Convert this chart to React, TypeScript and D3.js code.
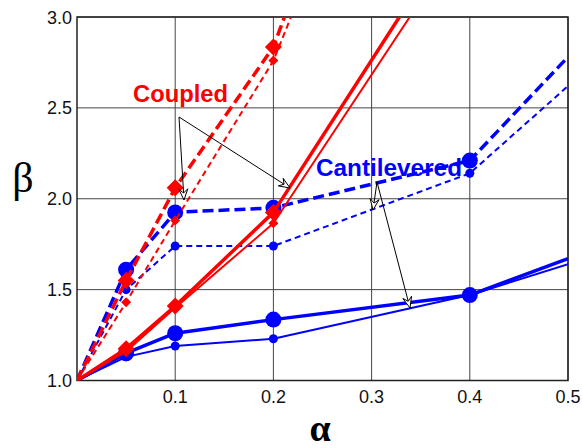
import React from "react";
import * as d3 from "d3";

const alphaTicks = [0.1, 0.2, 0.3, 0.4, 0.5];
const betaTicks = [1.0, 1.5, 2.0, 2.5, 3.0];

const cantAlpha = [0, 0.05, 0.1, 0.2, 0.4, 0.5];
const cantThickSolid = [1, 1.15, 1.26, 1.335, 1.47, 1.67];
const cantThinSolid = [1, 1.13, 1.19, 1.23, 1.47, 1.64];
const cantThickDashed = [1, 1.61, 1.925, 1.95, 2.21, 2.78];
const cantThinDashed = [1, 1.5, 1.74, 1.74, 2.14, 2.62];

const coupSolidAlpha = [0, 0.05, 0.1, 0.2, 0.4];
const coupThickSolid = [1, 1.175, 1.41, 1.925, 3.6];
const coupThinSolid = [1, 1.16, 1.4, 1.865, 3.5];
const coupDashedAlpha = [0, 0.05, 0.1, 0.2, 0.3];
const coupThickDashed = [1, 1.55, 2.06, 2.835, 4.3];
const coupThinDashed = [1, 1.43, 1.88, 2.76, 4.1];

const W = 582, H = 448;
const L = 77, R = 568, T = 17, B = 380.5;

const x = d3.scaleLinear().domain([0, 0.5]).range([L, R]);
const y = d3.scaleLinear().domain([1, 3]).range([B, T]);

type S = { a: number[]; b: number[]; color: string; w: number; dash?: string; marker: "circle" | "diamond"; size: number };

const series: S[] = [
  { a: cantAlpha, b: cantThinSolid, color: "#0000ff", w: 2, marker: "circle", size: 4.5 },
  { a: cantAlpha, b: cantThickSolid, color: "#0000ff", w: 3.5, marker: "circle", size: 8 },
  { a: cantAlpha, b: cantThinDashed, color: "#0000ff", w: 2, dash: "6,4", marker: "circle", size: 4.5 },
  { a: cantAlpha, b: cantThickDashed, color: "#0000ff", w: 3.5, dash: "11,5", marker: "circle", size: 8 },
  { a: coupSolidAlpha, b: coupThinSolid, color: "#ff0000", w: 2, marker: "diamond", size: 5 },
  { a: coupSolidAlpha, b: coupThickSolid, color: "#ff0000", w: 3.5, marker: "diamond", size: 8.5 },
  { a: coupDashedAlpha, b: coupThinDashed, color: "#ff0000", w: 2, dash: "6,4", marker: "diamond", size: 5 },
  { a: coupDashedAlpha, b: coupThickDashed, color: "#ff0000", w: 3.5, dash: "11,5", marker: "diamond", size: 8.5 },
];

const arrows = [
  { from: [179, 117], to: [184, 200] },
  { from: [179, 117], to: [290, 188] },
  { from: [377, 182], to: [373, 210] },
  { from: [377, 182], to: [410, 308] },
];

function head(from: number[], to: number[]) {
  const dx = to[0] - from[0], dy = to[1] - from[1];
  const len = Math.hypot(dx, dy);
  const ux = dx / len, uy = dy / len;
  const px = -uy, py = ux;
  const hl = 11, hw = 4.5, notch = 7;
  const [tx, ty] = to;
  const p1 = [tx - ux * hl + px * hw, ty - uy * hl + py * hw];
  const p2 = [tx - ux * notch, ty - uy * notch];
  const p3 = [tx - ux * hl - px * hw, ty - uy * hl - py * hw];
  return `M${tx},${ty}L${p1[0]},${p1[1]}L${p2[0]},${p2[1]}L${p3[0]},${p3[1]}Z`;
}

export default function App() {
  const line = d3.line<[number, number]>().x((d) => x(d[0])).y((d) => y(d[1]));
  const font = "Liberation Sans, Arial, Helvetica, sans-serif";
  return (
    <svg width={W} height={H} style={{ position: "absolute", left: 0, top: 0, background: "#fff" }} xmlns="http://www.w3.org/2000/svg">
      <defs>
        <clipPath id="plot">
          <rect x={L} y={T} width={R - L} height={B - T} />
        </clipPath>
      </defs>
      <rect x={0} y={0} width={W} height={H} fill="#fff" />
      {alphaTicks.map((t) => (
        <line key={"gx" + t} x1={x(t)} x2={x(t)} y1={T} y2={B} stroke="#444" strokeWidth={1} />
      ))}
      {betaTicks.map((t) => (
        <line key={"gy" + t} x1={L} x2={R} y1={y(t)} y2={y(t)} stroke="#444" strokeWidth={1} />
      ))}
      <rect x={L} y={T} width={R - L} height={B - T} fill="none" stroke="#222" strokeWidth={1.5} />
      <g clipPath="url(#plot)">
        {series.map((s, i) => {
          const pts = s.a.map((a, j) => [a, s.b[j]] as [number, number]);
          return (
            <g key={i}>
              <path d={line(pts) || ""} fill="none" stroke={s.color} strokeWidth={s.w} strokeDasharray={s.dash} strokeLinejoin="round" />
              {pts.slice(1).map((p, j) => {
                if (p[0] >= 0.5 || p[1] > 3) return null;
                const cx = x(p[0]), cy = y(p[1]);
                return s.marker === "circle" ? (
                  <circle key={j} cx={cx} cy={cy} r={s.size} fill={s.color} />
                ) : (
                  <path key={j} d={`M${cx},${cy - s.size}L${cx + s.size},${cy}L${cx},${cy + s.size}L${cx - s.size},${cy}Z`} fill={s.color} />
                );
              })}
            </g>
          );
        })}
      </g>
      {alphaTicks.map((t) => (
        <text key={"tx" + t} x={x(t)} y={403} textAnchor="middle" fontFamily={font} fontSize={18} fill="#111">
          {t.toFixed(1)}
        </text>
      ))}
      {betaTicks.map((t) => (
        <text key={"ty" + t} x={72} y={y(t) + 6.5} textAnchor="end" fontFamily={font} fontSize={18} fill="#111">
          {t.toFixed(1)}
        </text>
      ))}
      <text x={23} y={192} textAnchor="middle" fontFamily="Liberation Serif, Times New Roman, serif" fontSize={42} fill="#000">β</text>
      <text x={320} y={441} textAnchor="middle" fontFamily="Liberation Serif, Times New Roman, serif" fontWeight="bold" fontSize={38} fill="#000">α</text>
      <text x={133} y={102} fontFamily={font} fontWeight="bold" fontSize={23} fill="#ff0000" textLength={95} lengthAdjust="spacingAndGlyphs">Coupled</text>
      <text x={316} y={176} fontFamily={font} fontWeight="bold" fontSize={23} fill="#0000ff" textLength={146} lengthAdjust="spacingAndGlyphs">Cantilevered</text>
      {arrows.map((a, i) => (
        <g key={"ar" + i}>
          <line x1={a.from[0]} y1={a.from[1]} x2={a.to[0]} y2={a.to[1]} stroke="#000" strokeWidth={1} />
          <path d={head(a.from, a.to)} fill="#fff" stroke="#000" strokeWidth={1} />
        </g>
      ))}
    </svg>
  );
}
